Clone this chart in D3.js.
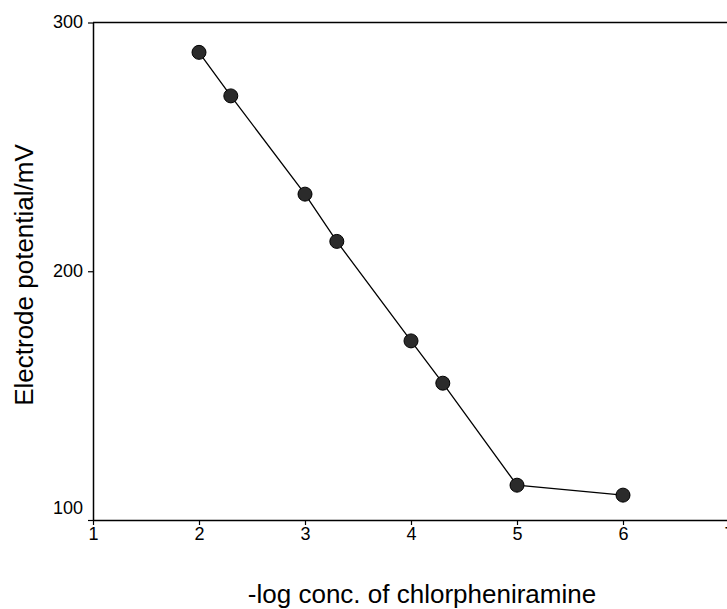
<!DOCTYPE html>
<html>
<head>
<meta charset="utf-8">
<script src="https://cdn.jsdelivr.net/npm/d3@7"></script>
<style>
  body { margin: 0; background: #fff; }
  svg { display: block; font-family: Arial, "Liberation Sans", sans-serif; }
  .tick text { font-size: 18px; fill: #000; }
</style>
</head>
<body>
<div id="chart"></div>
<script>
// data
var logConc = [2, 2.3, 3, 3.3, 4, 4.3, 5, 6];
var potential = [288, 270.5, 231, 212, 172, 155, 114, 110];
var xTicks = [1, 2, 3, 4, 5, 6, 7];
var yTicks = [100, 200, 300];

var width = 727, height = 609;
var margin = {left: 93, top: 22.5, bottom: 520};

var x = d3.scaleLinear().domain([1, 7]).range([margin.left, 729]);
var y = d3.scaleLinear().domain([100, 300]).range([margin.bottom, margin.top]);

var svg = d3.select("#chart").append("svg")
    .attr("width", width)
    .attr("height", height);

// top frame line
svg.append("line")
    .attr("x1", x(1)).attr("x2", width)
    .attr("y1", y(300)).attr("y2", y(300))
    .attr("stroke", "#000").attr("stroke-width", 1.5);

var xAxis = svg.append("g")
    .attr("transform", "translate(0," + y(100) + ")")
    .call(d3.axisBottom(x).tickValues(xTicks).tickSize(5).tickSizeOuter(0).tickFormat(d3.format("d")));
xAxis.attr("font-size", 18).attr("font-family", null);
xAxis.select(".domain").attr("stroke-width", 1.5);
xAxis.selectAll(".tick line").attr("stroke-width", 1.2);
xAxis.selectAll(".tick text").attr("y", 6).attr("dy", "0.75em");

var yAxis = svg.append("g")
    .attr("transform", "translate(" + x(1) + ",0)")
    .call(d3.axisLeft(y).tickValues(yTicks).tickSize(5).tickSizeOuter(0));
yAxis.attr("font-size", 18).attr("font-family", null);
yAxis.select(".domain").attr("stroke-width", 1.5);
yAxis.selectAll(".tick line").attr("stroke-width", 1.2);
yAxis.selectAll(".tick text").attr("x", -10).attr("dy", "0.3em");
yAxis.selectAll(".tick").filter(function(d) { return d == 100; }).select("text").attr("dy", "-0.35em");

// line + markers
var pts = logConc.map(function(v, i) { return [v, potential[i]]; });

svg.append("path")
    .datum(pts)
    .attr("fill", "none")
    .attr("stroke", "#000")
    .attr("stroke-width", 1.3)
    .attr("d", d3.line().x(function(d) { return x(d[0]); }).y(function(d) { return y(d[1]); }));

svg.selectAll(".pt")
    .data(pts)
  .enter().append("circle")
    .attr("class", "pt")
    .attr("cx", function(d) { return x(d[0]); })
    .attr("cy", function(d) { return y(d[1]); })
    .attr("r", 7)
    .attr("fill", "#2b2b2b")
    .attr("stroke", "#000")
    .attr("stroke-width", 1);

// axis titles
svg.append("text")
    .attr("x", 422).attr("y", 603)
    .attr("text-anchor", "middle")
    .style("font-size", "26px")
    .text("-log conc. of chlorpheniramine");

svg.append("text")
    .attr("transform", "translate(33,275) rotate(-90)")
    .attr("text-anchor", "middle")
    .style("font-size", "26px")
    .text("Electrode potential/mV");
</script>
</body>
</html>
